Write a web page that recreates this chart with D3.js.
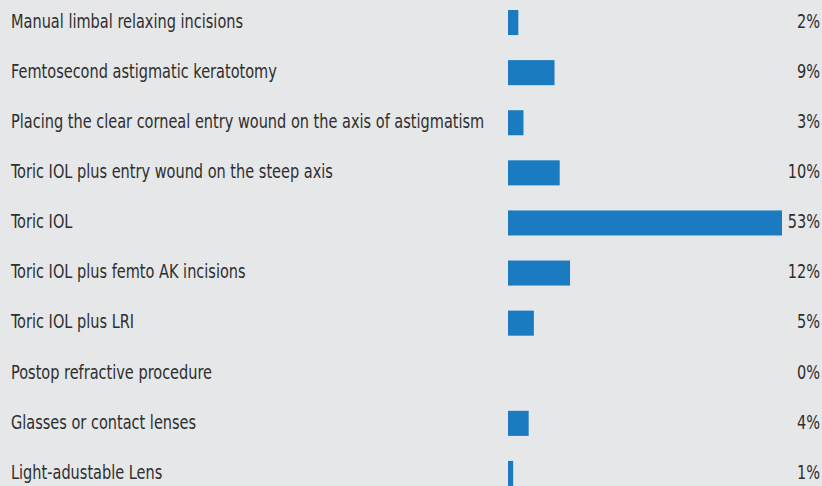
<!DOCTYPE html>
<html>
<head>
<meta charset="utf-8">
<script src="https://cdn.jsdelivr.net/npm/d3@7"></script>
<style>
  html, body { margin: 0; padding: 0; background: #e6e7e9; }
  svg { display: block; }
  .label { font-family: "DejaVu Sans Condensed", "Liberation Sans Narrow", sans-serif; font-size: 19px; fill: #2e2e2e; }
</style>
</head>
<body>
<svg id="chart"></svg>
<script>
const categories = [
  'Manual limbal relaxing incisions',
  'Femtosecond astigmatic keratotomy',
  'Placing the clear corneal entry wound on the axis of astigmatism',
  'Toric IOL plus entry wound on the steep axis',
  'Toric IOL',
  'Toric IOL plus femto AK incisions',
  'Toric IOL plus LRI',
  'Postop refractive procedure',
  'Glasses or contact lenses',
  'Light-adustable Lens'
];
const values = [2, 9, 3, 10, 53, 12, 5, 0, 4, 1];
const valueLabels = ['2%', '9%', '3%', '10%', '53%', '12%', '5%', '0%', '4%', '1%'];

const width = 822;
const height = 486;
// the source font is narrower than anything installed, so squeeze it
const squeeze = 0.85;

const svg = d3.select('#chart')
  .attr('width', width)
  .attr('height', height);

const yscale = d3.scaleBand()
  .domain(categories)
  .range([-2.5, 498.5])
  .paddingInner(0.5)
  .paddingOuter(0.25);

const xscale = d3.scaleLinear()
  .domain([0, 53])
  .range([508, 782]);

const rows = svg.append('g')
  .selectAll('g')
  .data(categories)
  .enter()
  .append('g');

const midY = (d) => yscale(d) + yscale.bandwidth() / 2;

rows.append('text')
  .attr('class', 'label')
  .attr('transform', (d) => `translate(11, ${midY(d)}) scale(${squeeze}, 1)`)
  .attr('dy', '0.28em')
  .text((d) => d);

rows.append('rect')
  .attr('fill', '#1b7bc0')
  .attr('x', xscale(0))
  .attr('y', (d) => yscale(d))
  .attr('width', (d, i) => xscale(values[i]) - xscale(0))
  .attr('height', yscale.bandwidth());

rows.append('text')
  .attr('class', 'label')
  .attr('transform', (d) => `translate(820, ${midY(d)}) scale(${squeeze}, 1)`)
  .attr('dy', '0.28em')
  .attr('text-anchor', 'end')
  .text((d, i) => valueLabels[i]);
</script>
</body>
</html>
